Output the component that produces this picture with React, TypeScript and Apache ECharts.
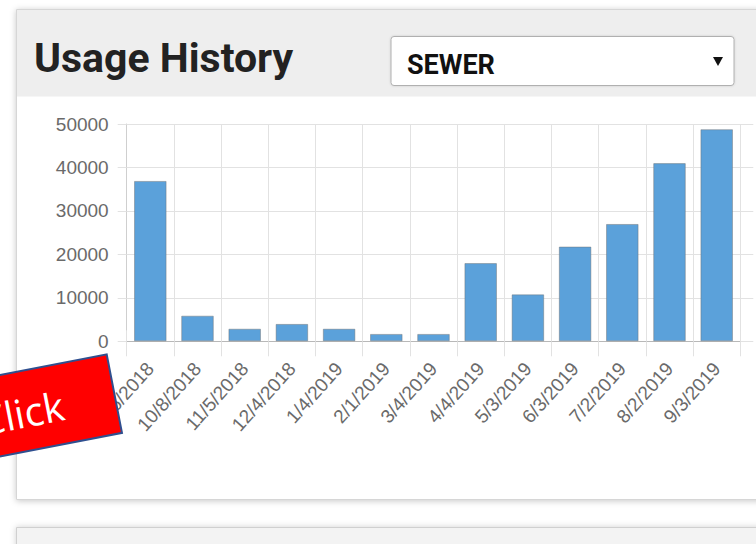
import React, { useEffect, useRef } from "react";
import * as echarts from "echarts";

const categories = [
  "9/6/2018", "10/8/2018", "11/5/2018", "12/4/2018", "1/4/2019", "2/1/2019", "3/4/2019",
  "4/4/2019", "5/3/2019", "6/3/2019", "7/2/2019", "8/2/2019", "9/3/2019",
];
const usage = [36900, 5900, 2900, 4000, 2900, 1700, 1700, 18000, 10800, 21800, 27000, 41000, 48800];
const yMin = 0;
const yMax = 50000;
const yStep = 10000;
const titleText = "Usage History";
const selectText = "SEWER";
const overlayText = "Click";

export default function App() {
  const ref = useRef<HTMLDivElement>(null);
  useEffect(() => {
    if (!ref.current) return;
    const chart = echarts.init(ref.current, null, { renderer: "svg" });
    const rot = (11 * Math.PI) / 180;
    const gridColor = "#e2e2e2";
    chart.setOption({
      animation: false,
      backgroundColor: "#ffffff",
      grid: { left: 126.7, top: 124, right: 15.7, bottom: 544 - 341.3, containLabel: false },
      xAxis: [
        {
          type: "category",
          data: categories,
          boundaryGap: true,
          axisLine: { show: true, lineStyle: { color: "#b8b8b8", width: 1 } },
          axisTick: { show: true, length: 15, lineStyle: { color: gridColor } },
          splitLine: { show: true, lineStyle: { color: gridColor, width: 1 } },
          axisLabel: {
            rotate: 48,
            margin: 24,
            color: "#6a6a6a",
            fontFamily: "Liberation Sans, Arial, sans-serif",
            fontSize: 19,
            interval: 0,
          },
        },
        {
          type: "category",
          position: "top",
          data: categories,
          boundaryGap: true,
          axisLine: { show: false },
          axisTick: { show: true, length: 11, lineStyle: { color: gridColor } },
          splitLine: { show: false },
          axisLabel: { show: false },
        },
      ],
      yAxis: [
        {
          type: "value",
          min: yMin,
          max: yMax,
          interval: yStep,
          axisLine: { show: true, lineStyle: { color: "#cfcfcf", width: 1 } },
          axisTick: { show: true, length: 9, lineStyle: { color: gridColor } },
          splitLine: { show: true, lineStyle: { color: gridColor, width: 1 } },
          axisLabel: {
            margin: 18,
            color: "#6a6a6a",
            fontFamily: "Liberation Sans, Arial, sans-serif",
            fontSize: 19,
            formatter: (v: number) => String(v),
          },
        },
        {
          type: "value",
          position: "right",
          min: yMin,
          max: yMax,
          interval: yStep,
          axisLine: { show: false },
          axisTick: { show: true, length: 13, lineStyle: { color: gridColor } },
          splitLine: { show: false },
          axisLabel: { show: false },
        },
      ],
      series: [
        {
          type: "bar",
          xAxisIndex: 0,
          yAxisIndex: 0,
          data: usage,
          barCategoryGap: "31%",
          itemStyle: { color: "#5ba1da", borderColor: "rgba(110,110,110,0.45)", borderWidth: 1 },
        },
      ],
      graphic: [
        {
          type: "rect",
          z: -20,
          shape: { x: 16.5, y: 9.5, width: 780, height: 490 },
          style: { fill: "#ffffff", stroke: "#d6d6d6", lineWidth: 1, shadowBlur: 6, shadowColor: "rgba(0,0,0,0.22)", shadowOffsetY: 1 },
        },
        {
          type: "rect",
          z: -19,
          shape: { x: 17, y: 10, width: 780, height: 86.5 },
          style: { fill: "#eeeeee" },
        },
        {
          type: "rect",
          z: -20,
          shape: { x: 16.5, y: 527.5, width: 780, height: 60 },
          style: { fill: "#f3f3f3", stroke: "#d0d0d0", lineWidth: 1, shadowBlur: 6, shadowColor: "rgba(0,0,0,0.18)" },
        },
        {
          type: "text",
          z: 10,
          style: {
            x: 34,
            y: 58,
            text: titleText,
            fill: "#222222",
            font: "bold 41px Roboto, sans-serif",
            verticalAlign: "middle",
          },
        },
        {
          type: "rect",
          z: 10,
          shape: { x: 391, y: 36.5, width: 343, height: 49, r: 3 },
          style: { fill: "#ffffff", stroke: "#b0b0b0", lineWidth: 1, shadowBlur: 2, shadowColor: "rgba(0,0,0,0.15)" },
        },
        {
          type: "text",
          z: 11,
          style: {
            x: 407,
            y: 65,
            text: selectText,
            fill: "#111111",
            font: "bold 27px Roboto, sans-serif",
            verticalAlign: "middle",
          },
        },
        {
          type: "polygon",
          z: 11,
          shape: { points: [[713, 57], [723, 57], [718, 66]] },
          style: { fill: "#111111" },
        },
        {
          type: "group",
          z: 100,
          x: 106.7,
          y: 354.3,
          rotation: rot,
          children: [
            {
              type: "rect",
              z: 100,
              shape: { x: -220, y: 0, width: 220, height: 80 },
              style: { fill: "#ff0000", stroke: "#2f4f8f", lineWidth: 2 },
            },
            {
              type: "text",
              z: 101,
              style: {
                x: -52,
                y: 41,
                text: overlayText,
                fill: "#ffffff",
                font: "40px 'Open Sans', sans-serif",
                align: "right",
                verticalAlign: "middle",
              },
            },
          ],
        },
      ],
    });
    return () => chart.dispose();
  }, []);
  return (
    <div
      ref={ref}
      style={{ position: "fixed", left: 0, top: 0, width: 756, height: 544 }}
    />
  );
}
